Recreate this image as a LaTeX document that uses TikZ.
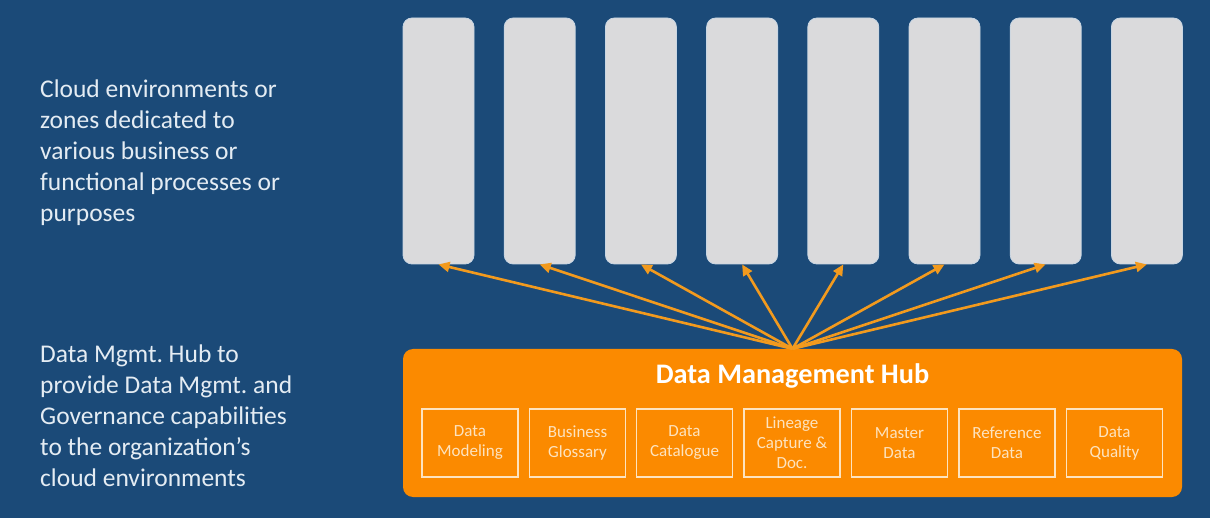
\documentclass[tikz,border=0pt]{standalone}
\usepackage{fontspec}
\setmainfont{Carlito}
\usetikzlibrary{arrows.meta}
\definecolor{bg}{HTML}{1B4A78}
\definecolor{zonegray}{HTML}{DADADC}
\definecolor{zoneedge}{HTML}{C9D6E3}
\definecolor{hubor}{HTML}{FB8A00}
\definecolor{arrowor}{HTML}{F29A1E}
\definecolor{txtlight}{HTML}{E4ECF3}
\definecolor{cream}{HTML}{FDE3BF}
\tikzset{
  zone/.style={fill=zonegray, draw=zoneedge, line width=0.8pt, rounded corners=9pt,
    minimum width=71pt, minimum height=246pt, inner sep=0pt},
  hubbox/.style={fill=hubor, draw=none, rounded corners=10pt,
    minimum width=779pt, minimum height=148pt, inner sep=0pt},
  capbox/.style={draw=cream, line width=1.2pt, minimum width=96pt, minimum height=68pt,
    inner sep=0pt, align=center, text=cream, font=\fontsize{17}{20}\selectfont},
  lefttxt/.style={anchor=north west, inner sep=0pt, align=left, text=txtlight,
    font=\fontsize{25.5}{31}\selectfont},
  fan/.style={draw=arrowor, line width=2.6pt, -{Triangle[length=11pt,width=10pt]}}
}
\begin{document}
\frenchspacing
\begin{tikzpicture}[x=1pt,y=-1pt]
\fill[bg] (0,0) rectangle (1210,518);
\useasboundingbox (0,0) rectangle (1210,518);
\foreach \i in {1,...,8}
  \node[zone] (z\i) at ({438.5+101.2*(\i-1)},141) {};
\node[hubbox] (hub) at (792.5,423) {};
\node[text=white, font=\bfseries\fontsize{28.3}{32}\selectfont] (title) at (792.5,376) {Data Management Hub};
\node[capbox] (m1) at (470,443) {Data\\Modeling};
\node[capbox] (m2) at (577.5,443) {Business\\Glossary};
\node[capbox] (m3) at (684.5,443) {Data\\Catalogue};
\node[capbox] (m4) at (792,443) {Lineage\\Capture \&\\Doc.};
\node[capbox] (m5) at (899.5,443) {Master\\Data};
\node[capbox] (m6) at (1007,443) {Reference\\Data};
\node[capbox] (m7) at (1114.5,443) {Data\\Quality};
\foreach \i in {1,...,8}
  \draw[fan] (hub.north) -- (z\i.south);
\node[lefttxt] (t1) at (40,79.5) {Cloud environments or\\zones dedicated to\\various business or\\functional processes or\\purposes};
\node[lefttxt] (t2) at (40,345) {Data Mgmt. Hub to\\provide Data Mgmt. and\\Governance capabilities\\to the organization’s\\cloud environments};
\end{tikzpicture}
\end{document}
